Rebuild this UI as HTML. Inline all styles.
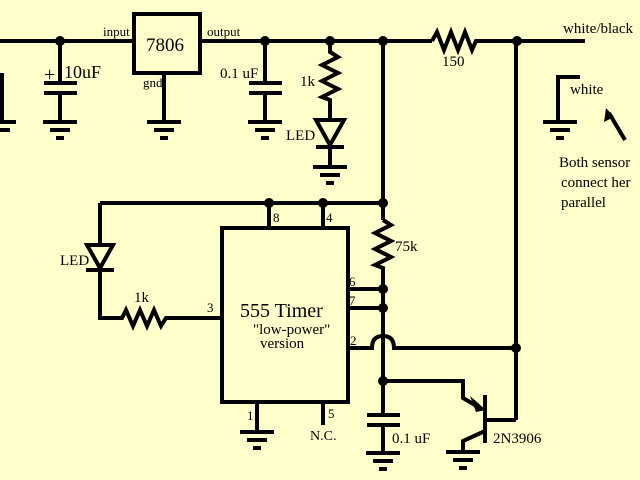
<!DOCTYPE html>
<html><head><style>html,body{margin:0;padding:0;background:#FFFFCC}svg{display:block}</style></head><body>
<svg width="640" height="480" viewBox="0 0 640 480" xmlns="http://www.w3.org/2000/svg">
<rect width="640" height="480" fill="#FFFFCC"/>
<defs>
<g id="gnd" stroke="#000" stroke-width="4" fill="none">
<line x1="-17" y1="0" x2="17" y2="0"/><line x1="-10" y1="8" x2="10" y2="8"/><line x1="-4" y1="16" x2="4" y2="16"/>
</g>
</defs>
<g stroke="#000" stroke-width="4" fill="none" stroke-linejoin="miter">
<line x1="0" y1="41" x2="134" y2="41"/>
<rect x="134" y="14" width="66" height="59"/>
<line x1="200" y1="41" x2="432" y2="41"/>
<polyline points="432,41 437,32 444,50 451,32 458,50 465,32 472,50 476,41 585,41"/>
<line x1="2" y1="73" x2="2" y2="122"/>
<line x1="-5" y1="122" x2="16" y2="122"/><line x1="-5" y1="130" x2="10" y2="130"/>
<line x1="60" y1="41" x2="60" y2="83"/><line x1="44" y1="83" x2="77" y2="83"/><line x1="44" y1="93" x2="77" y2="93"/><line x1="60" y1="93" x2="60" y2="122"/>
<line x1="164" y1="73" x2="164" y2="122"/>
<line x1="265" y1="41" x2="265" y2="83"/><line x1="249" y1="83" x2="282" y2="83"/><line x1="249" y1="93" x2="282" y2="93"/><line x1="265" y1="93" x2="265" y2="122"/>
<polyline points="330,41 330,52 338,57 322,65 338,73 322,81 338,89 322,97 330,100 330,120"/>
<polygon points="316,120 344,120 330,145"/>
<line x1="316" y1="147" x2="344" y2="147"/>
<line x1="330" y1="145" x2="330" y2="167"/>
<line x1="383" y1="41" x2="383" y2="220"/>
<polyline points="383,220 391,225 375,233 391,241 375,249 391,257 375,265 383,268 383,415"/>
<line x1="100" y1="203" x2="383" y2="203"/>
<line x1="269" y1="203" x2="269" y2="228"/><line x1="323" y1="203" x2="323" y2="228"/>
<rect x="222" y="228" width="126" height="174"/>
<line x1="348" y1="289" x2="383" y2="289"/>
<line x1="348" y1="308" x2="383" y2="308"/>
<path d="M348,348 L372,348 Q372,336 383,336 Q394,336 394,348 L516,348"/>
<line x1="100" y1="203" x2="100" y2="245"/>
<polygon points="87,245 113,245 100,268"/>
<line x1="86" y1="270" x2="114" y2="270"/>
<polyline points="100,268 100,318 122,318 126,310 133,326 140,310 147,326 154,310 161,326 166,318 222,318"/>
<line x1="257" y1="402" x2="257" y2="432"/>
<line x1="323" y1="402" x2="323" y2="425"/>
<line x1="367" y1="415" x2="400" y2="415"/><line x1="367" y1="425" x2="400" y2="425"/><line x1="383" y1="425" x2="383" y2="453"/>
<line x1="516" y1="41" x2="516" y2="420"/>
<polyline points="383,381 463,381 463,398 480,408"/>
<line x1="485" y1="395" x2="485" y2="443"/>
<polyline points="485,420 516,420"/>
<polyline points="485,431 463,441 463,452"/>
<polyline points="580,77 558,77 558,122"/>
<line x1="625" y1="140" x2="609" y2="113"/>
</g>
<polygon points="486,410 470,396 476,412" fill="#000"/>
<polygon points="606,108 604,122 614,117" fill="#000"/>
<use href="#gnd" x="60" y="122"/><use href="#gnd" x="164" y="122"/><use href="#gnd" x="265" y="122"/>
<use href="#gnd" x="330" y="167"/><use href="#gnd" x="257" y="432"/><use href="#gnd" x="383" y="453"/>
<use href="#gnd" x="463" y="452"/><use href="#gnd" x="560" y="122"/>
<g fill="#000">
<circle cx="60" cy="41" r="5"/><circle cx="265" cy="41" r="5"/><circle cx="330" cy="41" r="5"/><circle cx="383" cy="41" r="5"/><circle cx="517" cy="41" r="5"/>
<circle cx="269" cy="203" r="5"/><circle cx="323" cy="203" r="5"/><circle cx="383" cy="203" r="5"/>
<circle cx="383" cy="289" r="5"/><circle cx="383" cy="308" r="5"/><circle cx="516" cy="348" r="5"/><circle cx="383" cy="381" r="5"/>
</g>
<g font-family="Liberation Serif, serif" fill="#000">
<text x="103" y="36" font-size="13">input</text>
<text x="207" y="36" font-size="13">output</text>
<text x="146" y="51" font-size="19">7806</text>
<text x="143" y="87" font-size="13">gnd</text>
<text x="44" y="81" font-size="20">+</text>
<text x="64" y="78" font-size="18">10uF</text>
<text x="220" y="78" font-size="15">0.1 uF</text>
<text x="300" y="86" font-size="15">1k</text>
<text x="286" y="140" font-size="15">LED</text>
<text x="442" y="66" font-size="15">150</text>
<text x="563" y="33" font-size="15">white/black</text>
<text x="570" y="94" font-size="15">white</text>
<text x="559" y="167" font-size="15">Both sensor</text>
<text x="561" y="187" font-size="15">connect her</text>
<text x="561" y="207" font-size="15">parallel</text>
<text x="273" y="222" font-size="13">8</text><text x="326" y="222" font-size="13">4</text>
<text x="395" y="251" font-size="15">75k</text>
<text x="349" y="286" font-size="13">6</text><text x="349" y="305" font-size="13">7</text><text x="350" y="345" font-size="13">2</text>
<text x="207" y="312" font-size="13">3</text>
<text x="60" y="265" font-size="15">LED</text>
<text x="134" y="302" font-size="15">1k</text>
<text x="240" y="317" font-size="20">555 Timer</text>
<text x="253" y="334" font-size="15">"low-power"</text>
<text x="260" y="348" font-size="15">version</text>
<text x="247" y="420" font-size="13">1</text><text x="328" y="418" font-size="13">5</text>
<text x="310" y="440" font-size="14">N.C.</text>
<text x="392" y="443" font-size="15">0.1 uF</text>
<text x="493" y="443" font-size="15">2N3906</text>
</g>
</svg>
</body></html>
